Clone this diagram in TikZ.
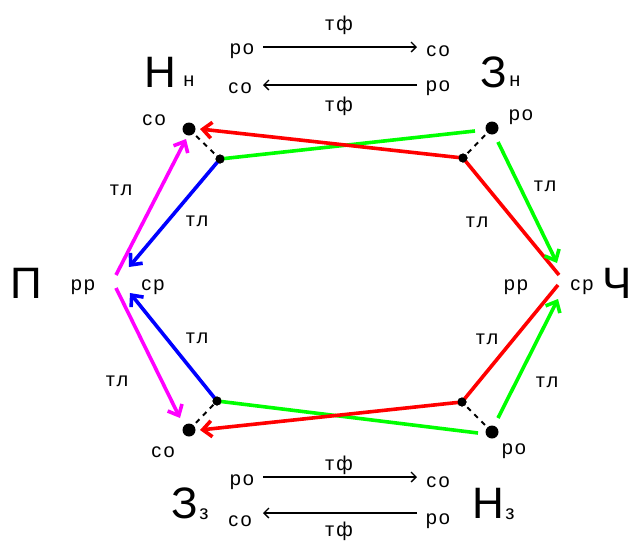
\documentclass[tikz,border=0pt]{standalone}
\usepackage{fontspec}
\setmainfont{Liberation Sans}
\newfontfamily\labfont[LetterSpace=10]{Liberation Sans}
\usetikzlibrary{arrows.meta}
\definecolor{pgreen}{RGB}{0,255,0}
\definecolor{pred}{RGB}{255,0,0}
\definecolor{pblue}{RGB}{0,0,255}
\definecolor{pmag}{RGB}{255,0,255}
\tikzset{
  lab/.style={inner sep=0pt,font=\labfont\fontsize{20}{20}\selectfont},
  big/.style={inner sep=0pt,font=\fontsize{44}{44}\selectfont},
  bigdot/.style={circle,fill=black,inner sep=0pt,minimum size=13pt},
  smalldot/.style={circle,fill=black,inner sep=0pt,minimum size=9pt},
  link/.style={draw=black,line width=2pt,dash pattern=on 5pt off 5pt},
  col/.style={line width=3.6pt},
  carr/.style={col,-{Straight Barb[length=9pt,width=16pt,line width=3.6pt]}},
  karr/.style={line width=1.4pt,-{Straight Barb[length=5pt,width=10pt,line width=1.4pt]}}
}
\begin{document}
\begin{tikzpicture}[x=1pt,y=-1pt]
\useasboundingbox (0,0) rectangle (633,544);
% dots
\node[bigdot] (NnB) at (189,129) {};
\node[smalldot] (NnS) at (220,159) {};
\node[bigdot] (ZnB) at (492,128) {};
\node[smalldot] (ZnS) at (463,158) {};
\node[bigdot] (ZzB) at (189,430) {};
\node[smalldot] (ZzS) at (217,401) {};
\node[bigdot] (NzB) at (492,432) {};
\node[smalldot] (NzS) at (462,402) {};
% free ends
\coordinate (gTopEnd) at (475,131);
\coordinate (rTopTip) at (200,129);
\coordinate (gBotEnd) at (478,433);
\coordinate (rBotTip) at (200,430);
\coordinate (bTopTip) at (129,267);
\coordinate (bBotTip) at (130,293);
\coordinate (pTop) at (116,275);
\coordinate (pBot) at (116,288);
\coordinate (mTopTip) at (186,139);
\coordinate (mBotTip) at (180,418);
\coordinate (chTop) at (559,275);
\coordinate (chBot) at (558,285);
\coordinate (gTrStart) at (498,142);
\coordinate (gTrTip) at (557,263);
\coordinate (gBrStart) at (498,418);
\coordinate (gBrTip) at (558,299);
% links
\draw[link] (NnB.center) -- (NnS.center);
\draw[link] (ZnB.center) -- (ZnS.center);
\draw[link] (ZzB.center) -- (ZzS.center);
\draw[link] (NzB.center) -- (NzS.center);
% colored connectors
\draw[col,pgreen] (NnS.center) -- (gTopEnd);
\draw[carr,pred] (ZnS.center) -- (rTopTip);
\draw[col,pgreen] (ZzS.center) -- (gBotEnd);
\draw[carr,pred] (NzS.center) -- (rBotTip);
\draw[carr,pblue] (NnS.center) -- (bTopTip);
\draw[carr,pblue] (ZzS.center) -- (bBotTip);
\draw[carr,pmag] (pTop) -- (mTopTip);
\draw[carr,pmag] (pBot) -- (mBotTip);
\draw[col,pred] (ZnS.center) -- (chTop);
\draw[col,pred] (NzS.center) -- (chBot);
\draw[carr,pgreen] (gTrStart) -- (gTrTip);
\draw[carr,pgreen] (gBrStart) -- (gBrTip);
% redraw dots on top
\node[smalldot] at (NnS) {};
\node[smalldot] at (ZnS) {};
\node[smalldot] at (ZzS) {};
\node[smalldot] at (NzS) {};
% top black arrows
\node[lab] (t1ro) at (242,51) {ро};
\node[lab] (t1co) at (438,51) {со};
\node[lab] (t1tf) at (339,25) {тф};
\node[lab] (t2co) at (240,88) {со};
\node[lab] (t2ro) at (438,88) {ро};
\node[lab] (t2tf) at (339,106) {тф};
\draw[karr] (263,47) -- (417,47);
\draw[karr] (417,85) -- (263,85);
% bottom black arrows
\node[lab] (b1ro) at (242,482) {ро};
\node[lab] (b1co) at (438,482) {со};
\node[lab] (b1tf) at (339,465) {тф};
\node[lab] (b2co) at (240,521) {со};
\node[lab] (b2ro) at (438,521) {ро};
\node[lab] (b2tf) at (339,531) {тф};
\draw[karr] (263,477) -- (417,477);
\draw[karr] (417,513) -- (263,513);
% big labels
\node[big] (Nn) at (160,72) {Н};
\node[lab] at (189,81) {н};
\node[big] (Zn) at (494,72) {З};
\node[lab] at (515,81) {н};
\node[big] (Zz) at (185,503) {З};
\node[lab] at (204,514) {з};
\node[big] (Nz) at (488,503) {Н};
\node[lab] at (510,514) {з};
\node[big] (P) at (26,283) {П};
\node[big] (Ch) at (617,283) {Ч};
% small labels
\node[lab] at (154,120) {со};
\node[lab] at (521,117) {ро};
\node[lab] at (163,452) {со};
\node[lab] at (514,451) {ро};
\node[lab] at (83,287) {рр};
\node[lab] at (153,287) {ср};
\node[lab] at (516,287) {рр};
\node[lab] at (582,287) {ср};
% тл labels
\node[lab] at (121,190) {тл};
\node[lab] at (197,221) {тл};
\node[lab] at (197,338) {тл};
\node[lab] at (117,381) {тл};
\node[lab] at (545,186) {тл};
\node[lab] at (477,222) {тл};
\node[lab] at (487,339) {тл};
\node[lab] at (547,382) {тл};
\end{tikzpicture}
\end{document}
